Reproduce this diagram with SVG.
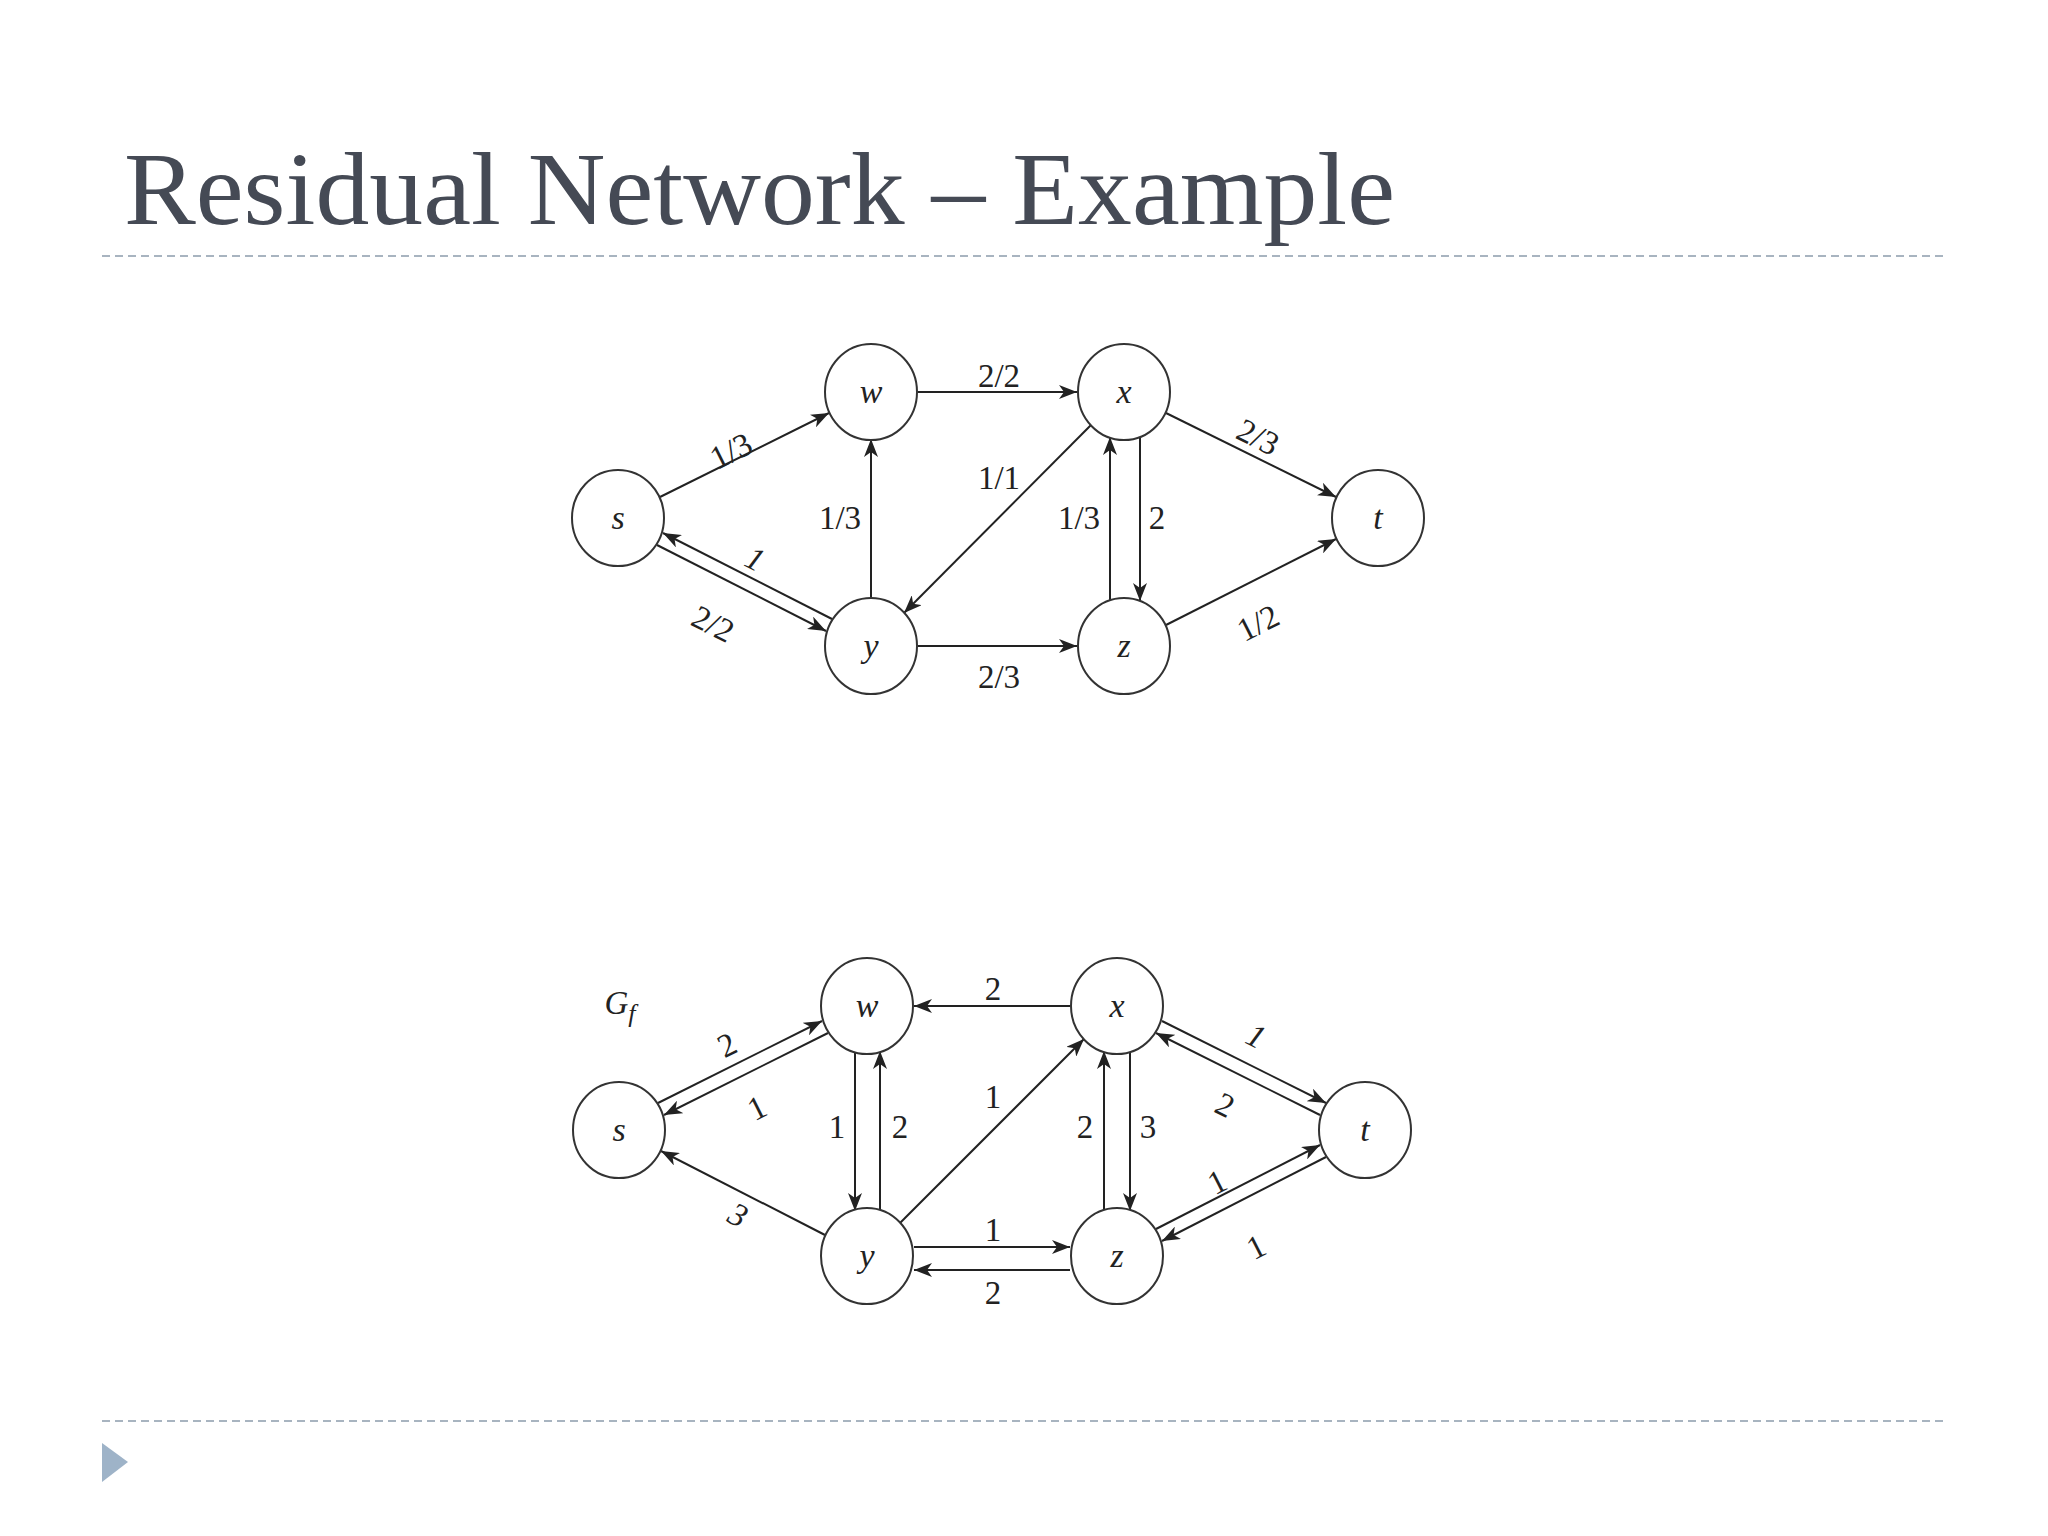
<svg xmlns="http://www.w3.org/2000/svg" width="2048" height="1536" viewBox="0 0 2048 1536">
<style>
.n{fill:#fff;stroke:#333;stroke-width:2}
.nt{font-family:"Liberation Serif",serif;font-style:italic;font-size:34px;fill:#222;text-anchor:middle}
.e{stroke:#222;stroke-width:2;fill:none;marker-end:url(#a)}
.l{font-family:"Liberation Serif",serif;font-size:33px;fill:#222;text-anchor:middle;dominant-baseline:central}
.dash{stroke:#a8b4c0;stroke-width:2;stroke-dasharray:8 5}
.title{font-family:"Liberation Serif",serif;font-size:104px;fill:#454a55}
</style>
<defs>
<marker id="a" markerUnits="userSpaceOnUse" markerWidth="20" markerHeight="14" refX="18" refY="7" orient="auto">
<path d="M0,0 L18,7 L0,14 L5,7 Z" fill="#222"/>
</marker>
</defs>
<rect width="2048" height="1536" fill="#fff"/>
<text class="title" x="124" y="224" textLength="1271" lengthAdjust="spacingAndGlyphs">Residual Network – Example</text>
<line class="dash" x1="102" y1="256" x2="1946" y2="256"/>
<line class="dash" x1="102" y1="1421" x2="1946" y2="1421"/>
<path d="M102,1443 L128,1462 L102,1482 Z" fill="#9eb3c8"/>
<g id="connectors">
<line class="e" x1="660" y1="497" x2="829" y2="413"/>
<line class="e" x1="918" y1="392" x2="1077" y2="392"/>
<line class="e" x1="1166" y1="413" x2="1336" y2="497"/>
<line class="e" x1="832" y1="619" x2="663" y2="533"/>
<line class="e" x1="657" y1="545" x2="826" y2="631"/>
<line class="e" x1="871" y1="599" x2="871" y2="439"/>
<line class="e" x1="1091" y1="425" x2="904" y2="613"/>
<line class="e" x1="1110" y1="601" x2="1110" y2="437"/>
<line class="e" x1="1140" y1="437" x2="1140" y2="601"/>
<line class="e" x1="918" y1="646" x2="1077" y2="646"/>
<line class="e" x1="1166" y1="625" x2="1336" y2="539"/>
<line class="e" x1="658" y1="1103" x2="822" y2="1021"/>
<line class="e" x1="828" y1="1033" x2="664" y2="1115"/>
<line class="e" x1="1070" y1="1006" x2="914" y2="1006"/>
<line class="e" x1="855" y1="1051" x2="855" y2="1211"/>
<line class="e" x1="880" y1="1211" x2="880" y2="1051"/>
<line class="e" x1="825" y1="1235" x2="661" y2="1151"/>
<line class="e" x1="900" y1="1223" x2="1084" y2="1039"/>
<line class="e" x1="1104" y1="1211" x2="1104" y2="1051"/>
<line class="e" x1="1130" y1="1051" x2="1130" y2="1211"/>
<line class="e" x1="1162" y1="1021" x2="1326" y2="1103"/>
<line class="e" x1="1320" y1="1115" x2="1156" y2="1033"/>
<line class="e" x1="1156" y1="1229" x2="1320" y2="1145"/>
<line class="e" x1="1326" y1="1157" x2="1162" y2="1241"/>
<line class="e" x1="914" y1="1247" x2="1070" y2="1247"/>
<line class="e" x1="1070" y1="1270" x2="914" y2="1270"/>
</g>
<g id="labels">
<text class="l" transform="translate(731,451) rotate(-26.5)">1/3</text>
<text class="l" x="999" y="376">2/2</text>
<text class="l" transform="translate(1258,437) rotate(26.5)">2/3</text>
<text class="l" transform="translate(755,559) rotate(26.8)" font-style="italic">1</text>
<text class="l" transform="translate(713,624) rotate(26.8)">2/2</text>
<text class="l" x="840" y="518">1/3</text>
<text class="l" x="999" y="478">1/1</text>
<text class="l" x="1079" y="518">1/3</text>
<text class="l" x="1157" y="518">2</text>
<text class="l" x="999" y="677">2/3</text>
<text class="l" transform="translate(1258,623) rotate(-26.8)">1/2</text>
<text class="l" x="620" y="1003" font-style="italic" font-size="36">G<tspan font-size="26" dy="10">f</tspan></text>
<text class="l" transform="translate(727,1045) rotate(-26.5)">2</text>
<text class="l" transform="translate(757,1108) rotate(-26.5)">1</text>
<text class="l" x="993" y="989">2</text>
<text class="l" x="837" y="1127">1</text>
<text class="l" x="900" y="1127">2</text>
<text class="l" transform="translate(738,1215) rotate(27)" font-style="italic">3</text>
<text class="l" x="993" y="1097">1</text>
<text class="l" x="1085" y="1127">2</text>
<text class="l" x="1148" y="1127">3</text>
<text class="l" transform="translate(1256,1036) rotate(26.5)" font-style="italic">1</text>
<text class="l" transform="translate(1225,1105) rotate(26.5)">2</text>
<text class="l" transform="translate(1217,1182) rotate(-27)">1</text>
<text class="l" transform="translate(1256,1247) rotate(-27)">1</text>
<text class="l" x="993" y="1230">1</text>
<text class="l" x="993" y="1293">2</text>
</g>
<g id="top-s"><ellipse class="n" cx="618" cy="518" rx="46" ry="48"/><text class="nt" x="618" y="529">s</text></g>
<g id="top-w"><ellipse class="n" cx="871" cy="392" rx="46" ry="48"/><text class="nt" x="871" y="403">w</text></g>
<g id="top-x"><ellipse class="n" cx="1124" cy="392" rx="46" ry="48"/><text class="nt" x="1124" y="403">x</text></g>
<g id="top-t"><ellipse class="n" cx="1378" cy="518" rx="46" ry="48"/><text class="nt" x="1378" y="529">t</text></g>
<g id="top-y"><ellipse class="n" cx="871" cy="646" rx="46" ry="48"/><text class="nt" x="871" y="657">y</text></g>
<g id="top-z"><ellipse class="n" cx="1124" cy="646" rx="46" ry="48"/><text class="nt" x="1124" y="657">z</text></g>
<g id="bot-s"><ellipse class="n" cx="619" cy="1130" rx="46" ry="48"/><text class="nt" x="619" y="1141">s</text></g>
<g id="bot-w"><ellipse class="n" cx="867" cy="1006" rx="46" ry="48"/><text class="nt" x="867" y="1017">w</text></g>
<g id="bot-x"><ellipse class="n" cx="1117" cy="1006" rx="46" ry="48"/><text class="nt" x="1117" y="1017">x</text></g>
<g id="bot-t"><ellipse class="n" cx="1365" cy="1130" rx="46" ry="48"/><text class="nt" x="1365" y="1141">t</text></g>
<g id="bot-y"><ellipse class="n" cx="867" cy="1256" rx="46" ry="48"/><text class="nt" x="867" y="1267">y</text></g>
<g id="bot-z"><ellipse class="n" cx="1117" cy="1256" rx="46" ry="48"/><text class="nt" x="1117" y="1267">z</text></g>
</svg>
